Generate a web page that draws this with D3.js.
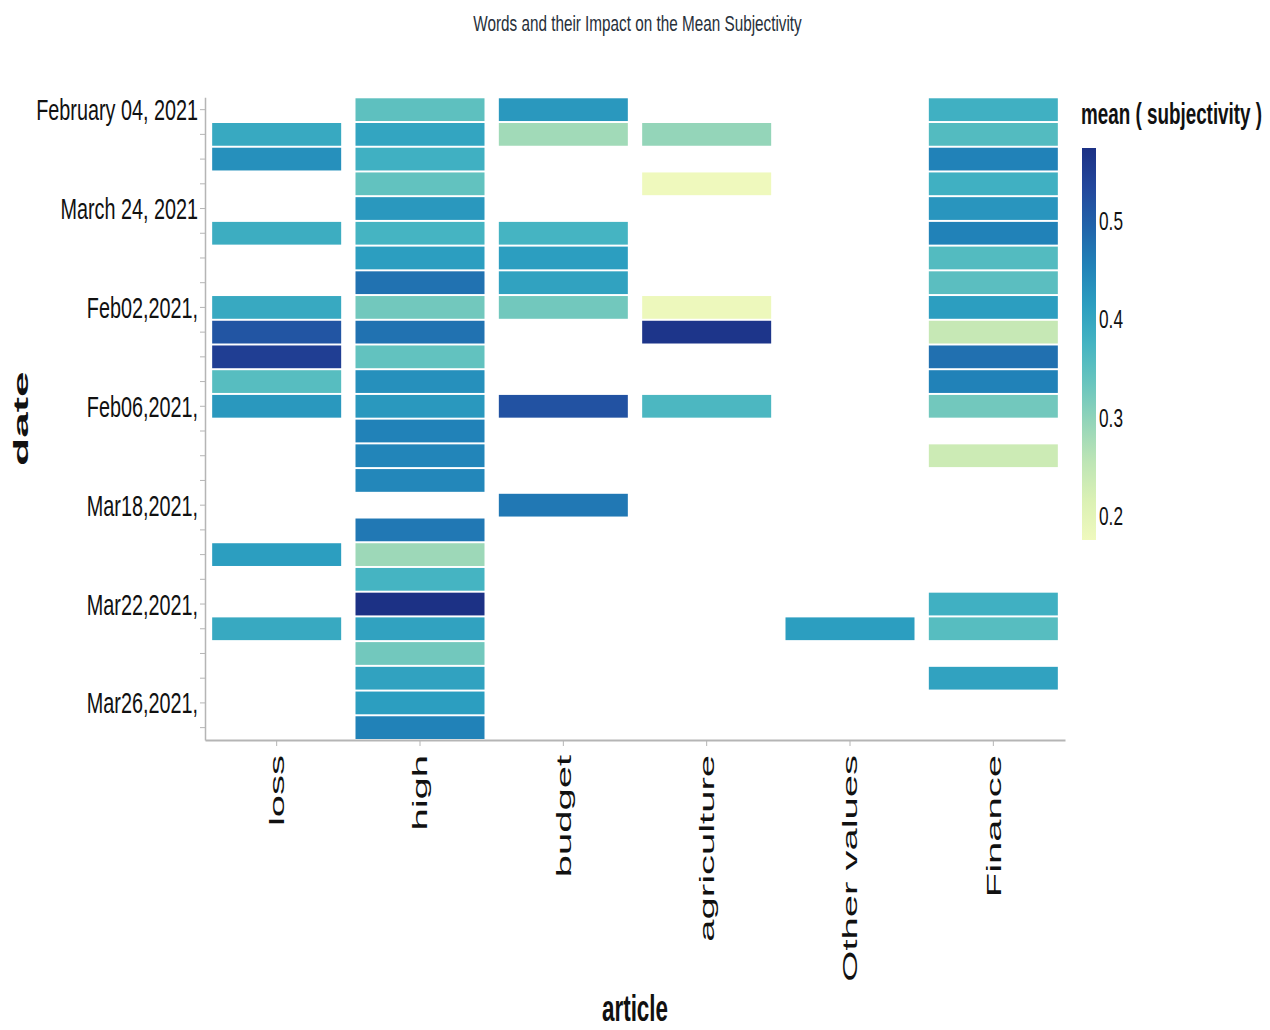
<!DOCTYPE html>
<html>
<head>
<meta charset="utf-8">
<script src="https://cdn.jsdelivr.net/npm/d3@7"></script>
<style>
  html, body { margin: 0; padding: 0; background: #fff; }
  svg { display: block; font-family: "Liberation Sans", Arial, Helvetica, sans-serif; }
</style>
</head>
<body>
<svg id="chart" width="1270" height="1030"></svg>
<script>
// ---------------- DATA ----------------
const dates = [
  "February 04, 2021", "February 05, 2021", "March 09, 2021", "March 15, 2021",
  "March 24, 2021", "March 25, 2021", "March 26, 2021", "Feb01,2021,",
  "Feb02,2021,", "Feb03,2021,", "Feb04,2021,", "Feb05,2021,",
  "Feb06,2021,", "Feb07,2021,", "Feb08,2021,", "Mar17,2021,",
  "Mar18,2021,", "Mar19,2021,", "Mar20,2021,", "Mar21,2021,",
  "Mar22,2021,", "Mar23,2021,", "Mar24,2021,", "Mar25,2021,",
  "Mar26,2021,", "Mar27,2021,"
];
const articles = ["loss", "high", "budget", "agriculture", "Other values", "Finance"];

// mean(subjectivity) per date row (null = no data)
const lossValues = [null, 0.395, 0.435, null, null, 0.387, null, null, 0.395, 0.514, 0.550, 0.355, 0.423,
  null, null, null, null, null, 0.415, null, null, 0.395, null, null, null, null];
const highValues = [0.347, 0.403, 0.383, 0.343, 0.423, 0.375, 0.415, 0.475, 0.327, 0.475, 0.343, 0.435, 0.423,
  0.455, 0.451, 0.447, null, 0.467, 0.287, 0.375, 0.574, 0.407, 0.327, 0.407, 0.415, 0.455];
const budgetValues = [0.423, 0.283, null, null, null, 0.375, 0.415, 0.407, 0.327, null, null, null, 0.518,
  null, null, null, 0.467, null, null, null, null, null, null, null, null, null];
const agricultureValues = [null, 0.295, null, 0.176, null, null, null, null, 0.180, 0.566, null, null, 0.367,
  null, null, null, null, null, null, null, null, null, null, null, null, null];
const otherValues = [null, null, null, null, null, null, null, null, null, null, null, null, null,
  null, null, null, null, null, null, null, null, 0.415, null, null, null, null];
const financeValues = [0.383, 0.359, 0.455, 0.383, 0.427, 0.455, 0.359, 0.351, 0.415, 0.244, 0.478, 0.455, 0.327,
  null, 0.236, null, null, null, null, null, 0.383, 0.355, null, 0.407, null, null];

const legendTicks = [0.2, 0.3, 0.4, 0.5];
const schemeColors = ["#eff9bd", "#dbf1b4", "#bde5b5", "#94d5b9", "#69c5be", "#45b4c2",
  "#2c9ec0", "#2182b8", "#2163aa", "#23479c", "#1c3185"];

const seriesByArticle = [lossValues, highValues, budgetValues, agricultureValues, otherValues, financeValues];

const cells = [];
articles.forEach((a, ai) => {
  seriesByArticle[ai].forEach((v, di) => {
    if (v !== null) cells.push({ article: a, date: dates[di], value: v });
  });
});

// ---------------- LAYOUT ----------------
const svg = d3.select("#chart");
const plot = { left: 205, right: 1065, top: 97.3, bottom: 740 };

const x = d3.scaleBand().domain(articles).range([plot.left, plot.right])
  .paddingInner(0.1).paddingOuter(0.05);
const y = d3.scaleBand().domain(dates).range([plot.top, plot.bottom])
  .paddingInner(0.08).paddingOuter(0.04);

const color = d3.scaleSequential(d3.piecewise(d3.interpolateRgb, schemeColors))
  .domain(d3.extent(cells, d => d.value));

// ---------------- CELLS ----------------
svg.append("g").selectAll("rect")
  .data(cells)
  .join("rect")
  .attr("x", d => x(d.article))
  .attr("y", d => y(d.date))
  .attr("width", x.bandwidth())
  .attr("height", y.bandwidth())
  .attr("fill", d => color(d.value));

// ---------------- AXES ----------------
const axisColor = "#b5b5b5";
const ySx = 0.66;
const yAxis = svg.append("g")
  .attr("transform", `translate(${plot.left},0)`)
  .call(d3.axisLeft(y).tickSize(5).tickSizeOuter(0)
    .tickFormat((d, i) => (i % 4 === 0 ? d : "")));
yAxis.select(".domain").attr("stroke", axisColor).attr("stroke-width", 1.5);
yAxis.selectAll(".tick line").attr("stroke", axisColor);
yAxis.selectAll(".tick text")
  .attr("x", -7 / ySx)
  .attr("dy", "0.35em")
  .attr("transform", `scale(${ySx},1)`)
  .attr("font-size", 30)
  .attr("font-family", "Liberation Sans, Arial, sans-serif")
  .attr("fill", "#111");

const xAxis = svg.append("g")
  .attr("transform", `translate(0,${plot.bottom})`)
  .call(d3.axisBottom(x).tickSize(6).tickSizeOuter(0));
xAxis.select(".domain").attr("stroke", axisColor).attr("stroke-width", 2);
xAxis.selectAll(".tick line").attr("stroke", axisColor);
xAxis.selectAll(".tick text").remove();
xAxis.selectAll(".tick").append("text")
  .text(d => d)
  .attr("transform", "translate(0,15) scale(0.52,1) rotate(-90)")
  .attr("text-anchor", "end")
  .attr("dy", "0.35em")
  .attr("font-size", 40)
  .attr("fill", "#111");

// axis titles
svg.append("text")
  .text("article")
  .attr("transform", `translate(${(plot.left + plot.right) / 2},1021) scale(0.606,1)`)
  .attr("text-anchor", "middle")
  .attr("font-weight", "bold")
  .attr("font-size", 37)
  .attr("fill", "#111");

svg.append("text")
  .text("date")
  .attr("transform", `translate(21,${(plot.top + plot.bottom) / 2}) scale(0.45,1) rotate(-90)`)
  .attr("text-anchor", "middle")
  .attr("dy", "0.35em")
  .attr("font-weight", "bold")
  .attr("font-size", 46)
  .attr("fill", "#111");

// chart title
svg.append("text")
  .text("Words and their Impact on the Mean Subjectivity")
  .attr("transform", "translate(637.5,31) scale(0.68,1)")
  .attr("text-anchor", "middle")
  .attr("font-size", 22.5)
  .attr("fill", "#27303a");

// ---------------- LEGEND ----------------
const leg = { x: 1082, w: 14, top: 148, bottom: 540 };
const ly = d3.scaleLinear().domain(color.domain()).range([leg.bottom, leg.top]);

const grad = svg.append("defs").append("linearGradient")
  .attr("id", "legGrad").attr("x1", 0).attr("y1", 1).attr("x2", 0).attr("y2", 0);
const [d0, d1] = color.domain();
d3.range(0, 1.0001, 0.05).forEach(t => {
  grad.append("stop").attr("offset", t).attr("stop-color", color(d0 + t * (d1 - d0)));
});
svg.append("rect")
  .attr("x", leg.x).attr("y", leg.top)
  .attr("width", leg.w).attr("height", leg.bottom - leg.top)
  .attr("fill", "url(#legGrad)");

svg.append("g").selectAll("text")
  .data(legendTicks)
  .join("text")
  .text(d => d3.format(".1f")(d))
  .attr("transform", d => `translate(1099,${ly(d)}) scale(0.69,1)`)
  .attr("dy", "0.35em")
  .attr("font-size", 25)
  .attr("fill", "#111");

svg.append("text")
  .text("mean ( subjectivity )")
  .attr("transform", "translate(1081,124) scale(0.65,1)")
  .attr("font-weight", "bold")
  .attr("font-size", 29)
  .attr("fill", "#111");
</script>
</body>
</html>
